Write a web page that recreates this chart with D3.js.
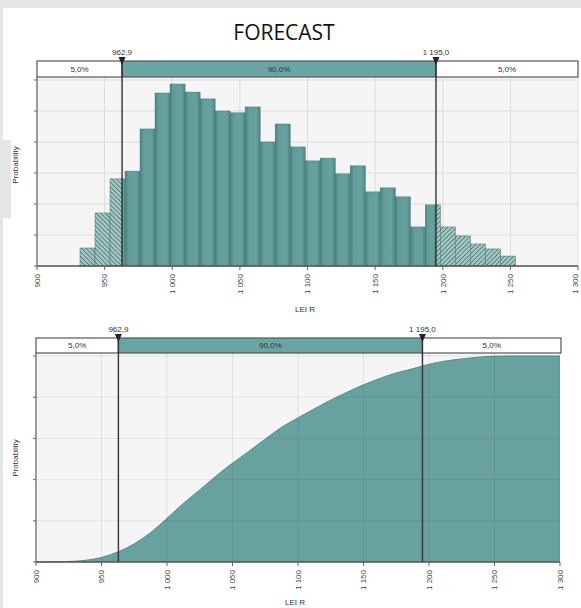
<!DOCTYPE html>
<html>
<head>
<meta charset="utf-8">
<script src="https://cdn.jsdelivr.net/npm/d3@7"></script>
<style>
  body { margin: 0; background: #e4e6e5; }
  svg { display: block; }
  text { font-family: "Liberation Sans", Arial, sans-serif; }
</style>
</head>
<body>
<div id="chart"></div>
<script>
// histogram bins: edges (n+1) and probability per bin
var binEdges = [931.8, 942.9, 954.0, 965.1, 976.2, 987.3, 998.4, 1009.5, 1020.6, 1031.7,
                1042.8, 1053.9, 1065.0, 1076.1, 1087.2, 1098.3, 1109.4, 1120.5, 1131.6, 1142.7,
                1153.8, 1164.9, 1176.0, 1187.1, 1198.2, 1209.3, 1220.4, 1231.5, 1242.6, 1253.7];
var binProb = [0.0058, 0.0171, 0.0281, 0.0306, 0.0442, 0.0558, 0.0587, 0.0561, 0.0539, 0.0500,
               0.0494, 0.0513, 0.0400, 0.0458, 0.0384, 0.0339, 0.0348, 0.0297, 0.0323, 0.0239,
               0.0252, 0.0223, 0.0126, 0.0197, 0.0126, 0.0097, 0.0071, 0.0055, 0.0032];

// cumulative curve
var cdfValue = [900, 915, 930, 940, 950, 962.9, 975, 987, 1000, 1012, 1025, 1037, 1050, 1062, 1075,
                1087, 1100, 1112, 1125, 1137, 1150, 1162, 1175, 1187, 1195, 1212, 1225, 1237, 1250, 1260, 1300];
var cdfProb = [0, 0.001, 0.004, 0.01, 0.022, 0.05, 0.088, 0.14, 0.212, 0.282, 0.35, 0.415, 0.48, 0.535, 0.597,
               0.652, 0.7, 0.742, 0.786, 0.823, 0.86, 0.89, 0.918, 0.937, 0.952, 0.975, 0.986, 0.994, 0.999, 1, 1];

var xTicks = [900, 950, 1000, 1050, 1100, 1150, 1200, 1250, 1300];
var certainty = [962.9, 1195.0];
var tailShares = [0.05, 0.90, 0.05];
var xTitle = "LEI R";

var ro = d3.formatLocale({decimal: ",", thousands: " ", grouping: [3], currency: ["", ""]});
var fmtTick = ro.format(",");
var fmtVal = ro.format(",.1f");
var fmtPct = ro.format(".1%");

var teal = "#68a19f", tealDark = "#44716f";

var svg = d3.select("#chart").append("svg")
    .attr("width", 581).attr("height", 608);

svg.append("rect").attr("x", 3).attr("y", 8).attr("width", 578).attr("height", 600).attr("fill", "#fff");
svg.append("rect").attr("x", 0).attr("y", 140).attr("width", 11).attr("height", 78).attr("fill", "#e4e6e5");

var defs = svg.append("defs");
var grad = defs.append("linearGradient").attr("id", "barGrad");
[["0%", "#4b8381"], ["25%", "#649e9c"], ["75%", "#67a19f"], ["100%", "#4d8583"]].forEach(function(s) {
    grad.append("stop").attr("offset", s[0]).attr("stop-color", s[1]);
});
function hatch(id, angle) {
    var p = defs.append("pattern").attr("id", id)
        .attr("patternUnits", "userSpaceOnUse").attr("width", 3.2).attr("height", 3.2)
        .attr("patternTransform", "rotate(" + angle + ")");
    p.append("rect").attr("width", 3.2).attr("height", 3.2).attr("fill", "#a6c6c4");
    p.append("line").attr("x1", 0).attr("y1", 0).attr("x2", 0).attr("y2", 3.2)
        .attr("stroke", "#3f7371").attr("stroke-width", 1.5);
}
hatch("hatchL", -45);
hatch("hatchR", 45);

svg.append("text").attr("x", 284).attr("y", 40).attr("text-anchor", "middle")
    .style("font-family", "'Open Sans', sans-serif").style("font-size", "21px").style("font-weight", 400)
    .attr("fill", "#111").text("FORECAST");

function panel(c) {
    var x = d3.scaleLinear().domain([900, 1300]).range([c.x0, c.x1]);
    var y = d3.scaleLinear().domain(c.yDomain).range([c.base, c.gridTop]);
    var g = svg.append("g");

    g.append("rect").attr("x", c.x0).attr("y", c.plotTop)
        .attr("width", c.x1 - c.x0).attr("height", c.base - c.plotTop).attr("fill", "#f5f5f5");

    function grid(color) {
        g.selectAll(null).data(y.ticks(c.nTicks)).enter().append("line")
            .attr("x1", c.x0).attr("x2", c.x1).attr("y1", y).attr("y2", y)
            .attr("stroke", color);
        g.selectAll(null).data(xTicks).enter().append("line")
            .attr("x1", x).attr("x2", x).attr("y1", c.plotTop).attr("y2", c.base)
            .attr("stroke", color);
    }
    if (!c.area) grid("#dcdcdc");

    if (c.area) {
        var pts = cdfValue.map(function(v, i) { return [v, cdfProb[i]]; });
        var area = d3.area().x(function(d) { return x(d[0]); })
            .y0(c.base).y1(function(d) { return y(d[1]); }).curve(d3.curveMonotoneX);
        g.append("path").attr("d", area(pts)).attr("fill", teal);
        g.append("path").attr("d", d3.line().x(function(d) { return x(d[0]); })
            .y(function(d) { return y(d[1]); }).curve(d3.curveMonotoneX)(pts))
            .attr("fill", "none").attr("stroke", "#558d8b").attr("stroke-width", 1);
        grid("rgba(0,0,0,0.07)");
    } else {
        binProb.forEach(function(p, i) {
            var lo = binEdges[i], hi = binEdges[i + 1];
            var cuts = [lo].concat(certainty.filter(function(t) { return t > lo && t < hi; })).concat([hi]);
            for (var k = 0; k < cuts.length - 1; k++) {
                var a = cuts[k], b = cuts[k + 1];
                var fill = b <= certainty[0] ? "url(#hatchL)" : a >= certainty[1] ? "url(#hatchR)" : "url(#barGrad)";
                g.append("rect").attr("x", x(a)).attr("y", y(p))
                    .attr("width", x(b) - x(a)).attr("height", c.base - y(p))
                    .attr("fill", fill).attr("stroke", tealDark).attr("stroke-width", 0.5);
            }
        });
    }

    // axes
    g.append("line").attr("x1", c.x0).attr("x2", c.x0).attr("y1", c.plotTop).attr("y2", c.base)
        .attr("stroke", "#666").attr("stroke-width", 1.2);
    g.append("line").attr("x1", c.x0).attr("x2", c.x1).attr("y1", c.base).attr("y2", c.base)
        .attr("stroke", "#555").attr("stroke-width", 1.5);
    g.selectAll(null).data(y.ticks(c.nTicks)).enter().append("line")
        .attr("x1", c.x0 - 3).attr("x2", c.x0).attr("y1", y).attr("y2", y).attr("stroke", "#666");
    g.selectAll(null).data(xTicks).enter().append("line")
        .attr("x1", x).attr("x2", x).attr("y1", c.base).attr("y2", c.base + 4).attr("stroke", "#666");
    g.selectAll(null).data(xTicks).enter().append("text")
        .attr("transform", function(d) { return "translate(" + Math.min(x(d), 575) + "," + (c.base + 8) + ")rotate(-90)"; })
        .attr("text-anchor", "end").attr("dy", "0.35em")
        .style("font-size", "8px").attr("fill", "#444").text(fmtTick);

    g.append("text").attr("transform", "translate(15," + c.yLabelY + ")rotate(-90)")
        .attr("text-anchor", "middle").attr("dy", "0.35em")
        .style("font-size", "8px").attr("fill", "#333").text("Probability");
    g.append("text").attr("x", c.xTitleX).attr("y", c.xTitleY).attr("text-anchor", "middle")
        .style("font-size", "8px").attr("fill", "#333").text(xTitle);

    // certainty band
    var segs = [c.x0, x(certainty[0]), x(certainty[1]), c.barRight];
    tailShares.forEach(function(s, i) {
        g.append("rect").attr("x", segs[i]).attr("y", c.barTop)
            .attr("width", segs[i + 1] - segs[i]).attr("height", c.barBottom - c.barTop)
            .attr("fill", i === 1 ? "#6aa5a3" : "#fff").attr("stroke", "#555").attr("stroke-width", 1.2);
        g.append("text").attr("x", (segs[i] + segs[i + 1]) / 2).attr("y", (c.barTop + c.barBottom) / 2)
            .attr("dy", "0.35em").attr("text-anchor", "middle")
            .style("font-size", "8px").attr("fill", "#333").text(fmtPct(s));
    });

    certainty.forEach(function(t) {
        var px = x(t);
        g.append("line").attr("x1", px).attr("x2", px).attr("y1", c.barTop).attr("y2", c.base)
            .attr("stroke", "#333").attr("stroke-width", 1.4);
        g.append("path").attr("d", "M" + (px - 3.5) + "," + (c.barTop - 4) + "L" + (px + 3.5) + "," + (c.barTop - 4) +
            "L" + px + "," + (c.barTop + 4) + "Z").attr("fill", "#222");
        g.append("text").attr("x", px).attr("y", c.barTop - 6).attr("text-anchor", "middle")
            .style("font-size", "8px").attr("fill", "#333").text(fmtVal(t));
    });
}

panel({x0: 37, x1: 578, barRight: 578, barTop: 61, barBottom: 77, plotTop: 77, gridTop: 80, base: 266,
       yDomain: [0, 0.06], nTicks: 6, yLabelY: 165, xTitleX: 305, xTitleY: 312, area: false});
panel({x0: 36, x1: 560, barRight: 561, barTop: 338, barBottom: 353, plotTop: 353, gridTop: 356, base: 562,
       yDomain: [0, 1], nTicks: 5, yLabelY: 458, xTitleX: 295, xTitleY: 605, area: true});
</script>
</body>
</html>
